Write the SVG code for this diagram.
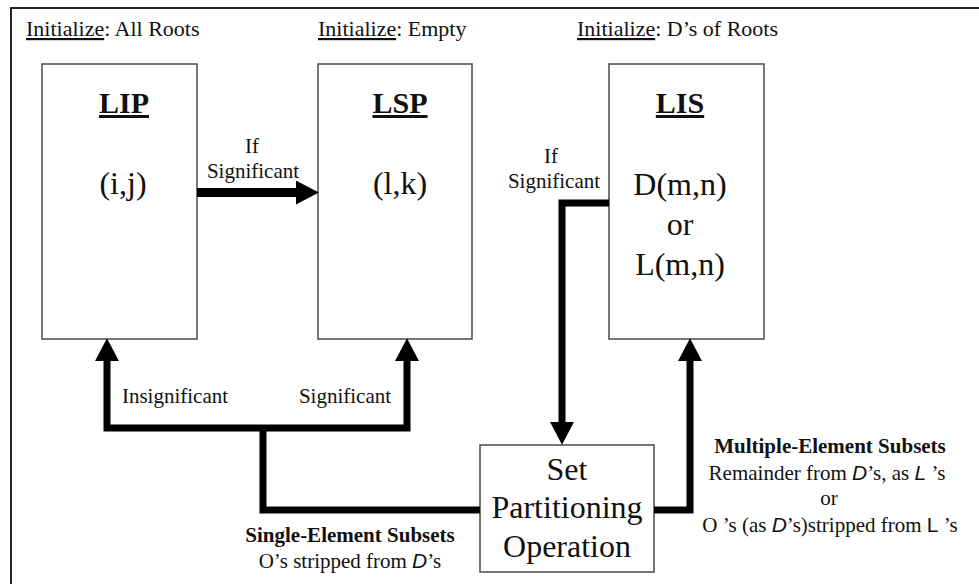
<svg xmlns="http://www.w3.org/2000/svg" width="979" height="584" viewBox="0 0 979 584">
<style>
  text { font-family: "Liberation Serif", "Times New Roman", serif; fill: #111; }
  .init { font-size: 22px; }
  .title { font-size: 30px; font-weight: bold; text-decoration: underline; text-anchor: middle; }
  .big { font-size: 32px; text-anchor: middle; }
  .lbl { font-size: 21px; text-anchor: middle; }
  .bold { font-weight: bold; }
  .ul { text-decoration: underline; }
  .sans { font-family: "Liberation Sans", Arial, sans-serif; }
  .box { fill: #fff; stroke: #555; stroke-width: 1.6; }
  .conn { fill: none; stroke: #000; stroke-width: 7; stroke-linejoin: miter; }
</style>
<defs>
  <marker id="ah" markerUnits="userSpaceOnUse" markerWidth="23" markerHeight="24" viewBox="0 0 22 23" refX="2" refY="11.5" orient="auto-start-reverse">
    <path d="M0,0 L22,11.5 L0,23 Z" fill="#000"/>
  </marker>
</defs>
<rect x="11" y="8" width="1000" height="620" fill="#fff" stroke="#222" stroke-width="2"/>

<g id="init-labels">
  <text class="init" x="26" y="36"><tspan class="ul">Initialize</tspan>: All Roots</text>
  <text class="init" x="318" y="36"><tspan class="ul">Initialize</tspan>: Empty</text>
  <text class="init" x="577" y="36"><tspan class="ul">Initialize</tspan>: D’s of Roots</text>
</g>

<g id="lip">
  <rect class="box" x="42" y="64" width="155" height="275"/>
  <text class="title" x="124" y="113">LIP</text>
  <text class="big" x="123" y="194">(i,j)</text>
</g>
<g id="lsp">
  <rect class="box" x="318" y="64" width="154" height="275"/>
  <text class="title" x="400" y="113">LSP</text>
  <text class="big" x="400" y="194">(l,k)</text>
</g>
<g id="lis">
  <rect class="box" x="609" y="64" width="155" height="275"/>
  <text class="title" x="680" y="113">LIS</text>
  <text class="big" x="680" y="195">D(m,n)</text>
  <text class="big" x="680" y="235">or</text>
  <text class="big" x="680" y="275">L(m,n)</text>
</g>
<g id="set-partitioning">
  <rect class="box" x="480" y="445" width="174" height="127"/>
  <text class="big" x="567" y="480">Set</text>
  <text class="big" x="567" y="518">Partitioning</text>
  <text class="big" x="567" y="557">Operation</text>
</g>

<g id="connectors">
  <path class="conn" style="stroke-width:9" d="M197,192.5 H298" marker-end="url(#ah)"/>
  <path class="conn" d="M107,359 V428 H407 V359" marker-start="url(#ah)" marker-end="url(#ah)"/>
  <path class="conn" d="M480,510 H263 V428"/>
  <path class="conn" d="M609,203 H562 V424" marker-end="url(#ah)"/>
  <path class="conn" d="M654,510 H690 V359" marker-end="url(#ah)"/>
</g>

<g id="connector-labels">
  <text class="lbl" x="252" y="153">If</text>
  <text class="lbl" x="253" y="178">Significant</text>
  <text class="lbl" x="551" y="163">If</text>
  <text class="lbl" x="554" y="188">Significant</text>
  <text class="lbl" x="175" y="403">Insignificant</text>
  <text class="lbl" x="345" y="403">Significant</text>
  <text class="lbl bold" x="350" y="542">Single-Element Subsets</text>
  <text class="lbl" x="350" y="568">O’s stripped from <tspan class="sans" font-style="italic">D</tspan>’s</text>
  <text class="lbl bold" x="830" y="453">Multiple-Element Subsets</text>
  <text class="lbl" x="827" y="480">Remainder from <tspan class="sans" font-style="italic">D</tspan>’s, as <tspan class="sans" font-style="italic">L</tspan> ’s</text>
  <text class="lbl" x="829" y="505">or</text>
  <text class="lbl" x="830" y="532">O ’s (as <tspan class="sans" font-style="italic">D</tspan>’s)stripped from <tspan class="sans">L</tspan> ’s</text>
</g>
</svg>
